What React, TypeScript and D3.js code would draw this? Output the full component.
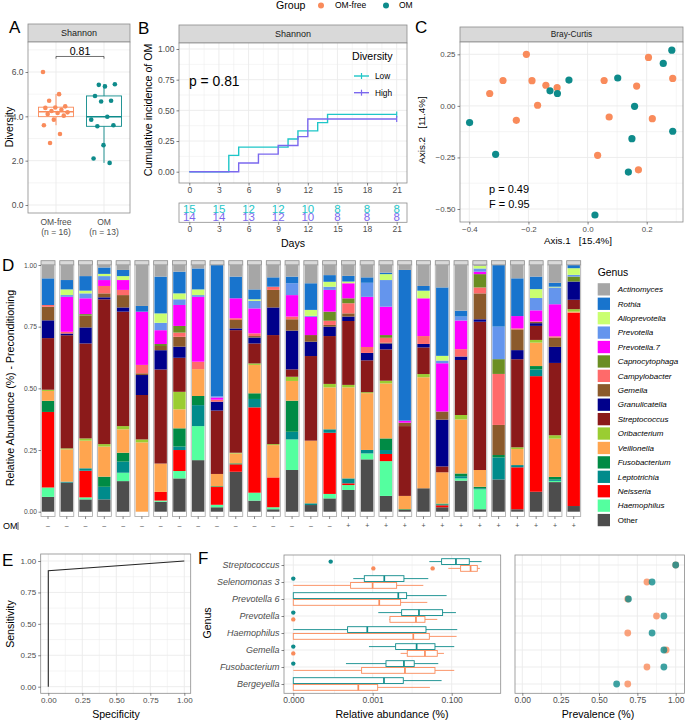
import React, { useEffect, useRef } from 'react';
import * as d3 from 'd3';

const FONT = '"Liberation Sans", Arial, Helvetica, sans-serif';
const ORANGE = '#F98B5B';
const TEAL = '#0E8B8B';
const LOW = '#1EC6C8';
const HIGH = '#7B68EE';
const GRID = '#EBEBEB';
const BORDER = '#8C8C8C';
const TXT = '#4D4D4D';

const groups = ['OM-free', 'OM'];
const groupN = [16, 13];

// A: Shannon diversity per child
const shannonOMFree = [6.0, 5.0, 4.7, 4.45, 4.4, 4.38, 4.3, 4.24, 4.18, 4.15, 4.1, 4.03, 3.85, 3.6, 3.2, 2.8];
const shannonOM = [5.42, 5.45, 5.35, 4.92, 4.7, 4.67, 3.85, 3.98, 3.55, 3.6, 2.7, 2.1, 1.9];

// B: cumulative incidence by diversity
const daysLow = [0, 4, 5, 10, 11, 13, 14, 21];
const incLow = [0, 0.133, 0.2, 0.267, 0.333, 0.4, 0.467, 0.467];
const daysHigh = [0, 5, 7, 9, 11, 12, 21];
const incHigh = [0, 0.071, 0.143, 0.214, 0.286, 0.429, 0.429];
const riskDays = [0, 3, 6, 9, 12, 15, 18, 21];
const riskLow = [15, 15, 12, 12, 10, 8, 8, 8];
const riskHigh = [14, 14, 13, 12, 10, 8, 8, 8];

// C: PCoA Bray-Curtis
const pcoaOMFree: [number, number][] = [
  [-0.207, 0.25], [-0.331, 0.06], [-0.286, 0.123], [-0.188, 0.122], [-0.141, 0.1], [-0.103, 0.088],
  [-0.169, 0.003], [-0.241, -0.07], [0.056, 0.123], [0.166, 0.096], [0.206, 0.235], [0.288, 0.133],
  [0.073, -0.054], [0.219, -0.062], [0.034, -0.24], [0.172, -0.31],
];
const pcoaOM: [number, number][] = [
  [-0.399, -0.081], [-0.311, -0.235], [-0.127, 0.073], [-0.102, 0.06], [-0.063, 0.125], [0.102, 0.135],
  [0.159, -0.002], [0.15, -0.159], [0.138, -0.321], [0.025, -0.529], [0.256, 0.206], [0.285, 0.27],
  [0.288, -0.123],
];

// D: relative abundance per sample (29 samples)
const omStatus = [...Array(16).fill('-'), ...Array(13).fill('+')];
const actinomyces = [.054, .061, .045, .01, .02, .166, .047, .027, .014, 0, .047, .099, .05, .047, .074, .041, .044, .05, .031, .02, .085, .091, .185, .004, 0, .054, .047, .072, 0];
const rothia = [.108, .038, .059, .026, .025, .023, .149, .088, .085, .532, .088, .04, .038, .027, .108, .027, .023, .022, .006, .611, .019, .278, .024, 0, .25, .153, .051, .016, .013];
const alloprevotella = [0, .023, .011, .009, .016, 0, .038, .024, .023, 0, 0, .006, 0, 0, .024, .02, .007, 0, .024, 0, .031, .019, 0, .01, 0, 0, .036, .003, .027];
const prevotella = [0, .007, .02, .016, 0, 0, .03, .023, .007, .005, 0, .031, 0, .048, .004, .013, 0, .057, .108, 0, 0, .011, .016, .013, .132, 0, .05, .068, .007];
const prevotella7 = [0, .142, .064, .024, .04, .216, .056, .085, .263, .009, .081, .101, 0, .087, .074, .088, .061, .203, .115, .008, .153, .196, .116, .01, 0, .05, .045, .13, 0];
const capnocytophaga = [0, 0, .006, 0, 0, 0, .008, .027, 0, 0, 0, 0, 0, 0, 0, .037, .02, 0, .011, 0, 0, 0, 0, .054, .06, 0, 0, 0, .02];
const campylobacter = [.007, .007, 0, .03, .021, .034, 0, .017, .03, .008, .007, .011, .013, .011, 0, .017, .041, .024, .02, 0, .032, 0, .03, .024, .207, .004, .002, .005, 0];
const gemella = [.055, 0, .048, .016, .05, .007, .017, .04, 0, 0, .034, .006, .071, .046, .027, .007, .013, 0, .003, .014, 0, .033, 0, .105, .122, .084, .005, .038, 0];
const granulicatella = [.072, .007, .065, .008, .017, .081, .078, .045, 0, .036, .007, .024, .112, .157, .058, .038, .018, .03, .024, 0, .014, .19, .014, .01, 0, .037, .011, .065, .074];
const streptococcus = [.209, .459, .385, .587, .464, .18, .381, .138, 0, .257, .497, .081, .442, .03, .343, .194, .259, .129, .127, .283, .108, .024, .223, .601, 0, .357, .057, .293, .038];
const oribacterium = [.005, .004, .009, .01, .013, .012, 0, .071, 0, 0, .003, .006, .004, .017, 0, .014, .01, .004, .011, 0, .013, 0, .018, 0, 0, .007, .011, .014, .01];
const veillonella = [.04, .131, .112, .122, .095, .281, .115, .077, .109, .05, .04, .115, .131, .08, .254, .17, .369, .23, .223, .054, .45, .127, .219, .068, 0, .065, .095, .155, .004];
const fusobacterium = [.045, 0, 0, .041, .036, 0, 0, .074, .037, .003, .004, .023, 0, .126, 0, 0, 0, 0, .047, .003, 0, .004, .011, .006, .01, 0, .014, .011, 0];
const leptotrichia = [0, .004, .01, .051, .045, 0, 0, .014, .085, 0, 0, .034, 0, .031, .007, .014, .02, .014, .016, 0, 0, .003, .009, .004, .089, .009, .027, .005, 0];
const neisseria = [.306, 0, .108, 0, 0, 0, .035, .085, 0, .072, .03, .346, .121, 0, 0, .248, .007, 0, .029, 0, 0, .008, 0, 0, 0, .17, .469, 0, .784];
const haemophilus = [.038, 0, .008, 0, .034, 0, .005, .03, .138, .01, 0, .032, .008, .124, 0, .018, .02, .024, .141, 0, 0, 0, .009, .081, 0, 0, 0, .005, 0];
const other = [.06, .118, .05, .05, .124, 0, .04, .135, .209, .018, .162, .045, .01, .169, .027, .054, .088, .212, .064, .007, .095, .018, .126, .01, .131, .01, .081, .12, .023];

const genusTable = [
  { name: 'Actinomyces', color: '#A6A6A6', values: actinomyces },
  { name: 'Rothia', color: '#1874CD', values: rothia },
  { name: 'Alloprevotella', color: '#CAFF70', values: alloprevotella },
  { name: 'Prevotella', color: '#6495ED', values: prevotella },
  { name: 'Prevotella.7', color: '#FF00FF', values: prevotella7 },
  { name: 'Capnocytophaga', color: '#6B8E23', values: capnocytophaga },
  { name: 'Campylobacter', color: '#FF6A6A', values: campylobacter },
  { name: 'Gemella', color: '#8B5A2B', values: gemella },
  { name: 'Granulicatella', color: '#00008B', values: granulicatella },
  { name: 'Streptococcus', color: '#8B1A1A', values: streptococcus },
  { name: 'Oribacterium', color: '#9ACD32', values: oribacterium },
  { name: 'Veillonella', color: '#FFA54F', values: veillonella },
  { name: 'Fusobacterium', color: '#008B45', values: fusobacterium },
  { name: 'Leptotrichia', color: '#008B8B', values: leptotrichia },
  { name: 'Neisseria', color: '#FF0000', values: neisseria },
  { name: 'Haemophilus', color: '#54FF9F', values: haemophilus },
  { name: 'Other', color: '#4D4D4D', values: other },
];

// E: ROC
const specificity = [0, 0, 1];
const sensitivity = [0, 0.923, 1];

// F: abundance boxplots [lower whisker, q1, median, q3, upper whisker]
const fGenera = ['Streptococcus', 'Selenomonas 3', 'Prevotella 6', 'Prevotella', 'Haemophilus', 'Gemella', 'Fusobacterium', 'Bergeyella'];
const boxOM = [
  [0.0272, 0.0556, 0.128, 0.278, 0.569],
  [3.17e-4, 6.11e-4, 1.975e-3, 6.21e-3, 0.0256],
  [0, 0, 4.47e-3, 7.26e-3, 0.0744],
  [1.39e-3, 5.43e-3, 0.0149, 0.0589, 0.128],
  [0, 2.25e-4, 7.29e-4, 0.0224, 0.138],
  [8.04e-4, 3.83e-3, 0.013, 0.0378, 0.116],
  [2.04e-4, 2.18e-3, 6.21e-3, 0.0113, 0.0458],
  [0, 0, 1.94e-3, 5.98e-3, 0.0556],
];
const boxOMFree = [
  [0.082, 0.168, 0.3, 0.443, 0.516],
  [0, 2.7e-4, 9.97e-4, 4.06e-3, 0.0192],
  [0, 0, 1.47e-3, 5.12e-3, 0.0242],
  [2.64e-3, 2.75e-3, 0.0125, 0.0211, 0.0432],
  [0, 0, 0.0107, 0.0272, 0.133],
  [5.12e-3, 7.54e-3, 0.0211, 0.0432, 0.0637],
  [0, 5.21e-4, 6.59e-3, 0.0378, 0.116],
  [0, 0, 4.28e-4, 1.34e-3, 0.0282],
];
const outlierOMGenus = ['Streptococcus', 'Selenomonas 3', 'Prevotella', 'Gemella', 'Fusobacterium'];
const outlierOMValue = [7.8e-5, 0, 0, 0, 0];
const outlierFreeGenus = ['Streptococcus', 'Streptococcus', 'Prevotella', 'Gemella'];
const outlierFreeValue = [0.00104, 0.033, 0, 0];
const prevalenceOMFree = [1.0, 0.8125, 0.6875, 0.875, 0.6875, 0.9375, 0.8125, 0.6875];
const prevalenceOM = [1.0, 0.846, 0.692, 0.923, 0.846, 0.923, 0.923, 0.615];

type Sel = d3.Selection<any, any, any, any>;

const label = (g: Sel, x: number, y: number, s: string, o: any = {}) => {
  const t = g.append('text')
    .attr('x', x).attr('y', y).attr('dy', '0.35em')
    .attr('text-anchor', o.anchor || 'middle')
    .attr('font-size', o.size || 10.6)
    .attr('fill', o.color || '#000')
    .attr('font-style', o.italic ? 'italic' : 'normal')
    .text(s);
  if (o.rotate) t.attr('transform', `rotate(-90, ${x}, ${y})`);
  return t;
};

const panelBg = (g: Sel, x0: number, y0: number, x1: number, y1: number) =>
  g.append('rect').attr('x', x0).attr('y', y0).attr('width', x1 - x0).attr('height', y1 - y0).attr('fill', '#fff');

const panelBorder = (g: Sel, x0: number, y0: number, x1: number, y1: number) =>
  g.append('rect').attr('x', x0).attr('y', y0).attr('width', x1 - x0).attr('height', y1 - y0)
    .attr('fill', 'none').attr('stroke', BORDER).attr('stroke-width', 0.8);

const strip = (g: Sel, x0: number, y0: number, x1: number, y1: number, s: string, size = 9) => {
  g.append('rect').attr('x', x0).attr('y', y0).attr('width', x1 - x0).attr('height', y1 - y0)
    .attr('fill', '#D9D9D9').attr('stroke', BORDER).attr('stroke-width', 0.8);
  if (s) label(g, (x0 + x1) / 2, (y0 + y1) / 2, s, { size, color: '#1A1A1A' });
};

const vGrid = (g: Sel, xs: number[], y0: number, y1: number, w: number) =>
  xs.forEach(x => g.append('line').attr('x1', x).attr('x2', x).attr('y1', y0).attr('y2', y1)
    .attr('stroke', GRID).attr('stroke-width', w));

const hGrid = (g: Sel, ys: number[], x0: number, x1: number, w: number) =>
  ys.forEach(y => g.append('line').attr('x1', x0).attr('x2', x1).attr('y1', y).attr('y2', y)
    .attr('stroke', GRID).attr('stroke-width', w));

const axis = (g: Sel, gen: any, tx: number, ty: number, size = 8.5) => {
  const a = g.append('g').attr('transform', `translate(${tx},${ty})`).call(gen);
  a.select('.domain').remove();
  a.attr('font-family', FONT).attr('font-size', size);
  a.selectAll('.tick line').attr('stroke', '#333').attr('stroke-width', 0.6);
  a.selectAll('.tick text').attr('fill', TXT);
  return a;
};

const mid = (v: number[]) => v.slice(1).map((d, i) => (d + v[i]) / 2);

const App: React.FC = () => {
  const ref = useRef<SVGSVGElement>(null);

  useEffect(() => {
    if (!ref.current) return;
    const svg = d3.select(ref.current);
    svg.selectAll('*').remove();
    svg.append('rect').attr('width', 685).attr('height', 722).attr('fill', '#fff');
    const root = svg.append('g').attr('font-family', FONT);

    // ---------- top legend ----------
    label(root, 276, 5.5, 'Group', { anchor: 'start', size: 10.6 });
    root.append('circle').attr('cx', 321).attr('cy', 5.5).attr('r', 3).attr('fill', ORANGE);
    label(root, 335, 5.5, 'OM-free', { anchor: 'start', size: 8.5 });
    root.append('circle').attr('cx', 386).attr('cy', 5.5).attr('r', 3).attr('fill', TEAL);
    label(root, 399, 5.5, 'OM', { anchor: 'start', size: 8.5 });

    // ---------- A ----------
    {
      const g = root.append('g');
      const [x0, y0, x1, y1] = [28, 42, 130, 213];
      const y = d3.scaleLinear().domain([0, 6]).range([205, 72]);
      const x = d3.scalePoint<string>().domain(groups).range([56, 104]);
      label(g, 9, 27, 'A', { anchor: 'start', size: 17 });
      strip(g, x0, 24, x1, y0, 'Shannon');
      panelBg(g, x0, y0, x1, y1);
      hGrid(g, [1, 3, 5, 7].map(y), x0, x1, 0.5);
      hGrid(g, [0, 2, 4, 6].map(y), x0, x1, 0.9);
      vGrid(g, groups.map(d => x(d)!), y0, y1, 0.9);
      [shannonOMFree, shannonOM].forEach((vals, gi) => {
        const col = gi === 0 ? ORANGE : TEAL;
        const cx = x(groups[gi])!;
        const s = [...vals].sort(d3.ascending);
        const q1 = d3.quantile(s, 0.25)!, med = d3.quantile(s, 0.5)!, q3 = d3.quantile(s, 0.75)!;
        const iqr = q3 - q1;
        const lo = d3.min(s.filter(v => v >= q1 - 1.5 * iqr))!;
        const hi = d3.max(s.filter(v => v <= q3 + 1.5 * iqr))!;
        const bw = 35;
        g.append('line').attr('x1', cx).attr('x2', cx).attr('y1', y(hi)).attr('y2', y(q3)).attr('stroke', col).attr('stroke-width', 0.9);
        g.append('line').attr('x1', cx).attr('x2', cx).attr('y1', y(q1)).attr('y2', y(lo)).attr('stroke', col).attr('stroke-width', 0.9);
        g.append('rect').attr('x', cx - bw / 2).attr('width', bw).attr('y', y(q3)).attr('height', y(q1) - y(q3))
          .attr('fill', '#fff').attr('fill-opacity', 0.6).attr('stroke', col).attr('stroke-width', 0.9);
        g.append('line').attr('x1', cx - bw / 2).attr('x2', cx + bw / 2).attr('y1', y(med)).attr('y2', y(med)).attr('stroke', col).attr('stroke-width', 1.6);
        vals.forEach((v, i) => {
          const jit = (((i * 0.618034 + gi * 0.3) % 1) - 0.5) * 26;
          g.append('circle').attr('cx', cx + jit).attr('cy', y(v)).attr('r', 2.3).attr('fill', col);
        });
      });
      // significance bracket
      const by = y(6.7);
      g.append('path').attr('d', `M${x('OM-free')},${y(6.6)}V${by}H${x('OM')}V${y(6.6)}`)
        .attr('fill', 'none').attr('stroke', '#333').attr('stroke-width', 0.7);
      label(g, 80, 51, '0.81', { size: 10.6 });
      panelBorder(g, x0, y0, x1, y1);
      axis(g, d3.axisLeft(y).tickValues([0, 2, 4, 6]).tickSize(2.5).tickPadding(2), x0, 0);
      groups.forEach((d, i) => {
        label(g, x(d)!, 222, d, { size: 8.5, color: TXT });
        label(g, x(d)!, 232, `(n = ${groupN[i]})`, { size: 8.5, color: TXT });
      });
      label(g, 9.5, 127, 'Diversity', { rotate: true });
    }

    // ---------- B ----------
    {
      const g = root.append('g');
      const [x0, y0, x1, y1] = [179, 43, 407, 183];
      const x = d3.scaleLinear().domain([0, 21]).range([189.3, 396.7]);
      const y = d3.scaleLinear().domain([0, 1]).range([171.7, 49]);
      label(g, 138, 28, 'B', { anchor: 'start', size: 17 });
      strip(g, x0, 25, x1, y0, 'Shannon');
      panelBg(g, x0, y0, x1, y1);
      const xt = d3.range(0, 22, 3);
      const yt = [0, 0.25, 0.5, 0.75, 1];
      vGrid(g, mid(xt).map(x), y0, y1, 0.5);
      hGrid(g, mid(yt).map(y), x0, x1, 0.5);
      vGrid(g, xt.map(x), y0, y1, 0.9);
      hGrid(g, yt.map(y), x0, x1, 0.9);
      const line = d3.line<[number, number]>().x(d => x(d[0])).y(d => y(d[1])).curve(d3.curveStepAfter);
      const curves: [number[], number[], string][] = [[daysLow, incLow, LOW], [daysHigh, incHigh, HIGH]];
      curves.forEach(([days, inc, col]) => {
        const pts = days.map((d, i) => [d, inc[i]] as [number, number]);
        g.append('path').attr('d', line(pts)!).attr('fill', 'none').attr('stroke', col).attr('stroke-width', 1.4);
        const last = pts[pts.length - 1];
        g.append('line').attr('x1', x(last[0])).attr('x2', x(last[0])).attr('y1', y(last[1]) - 3).attr('y2', y(last[1]) + 3)
          .attr('stroke', col).attr('stroke-width', 1.2);
      });
      label(g, 189, 81, 'p = 0.81', { anchor: 'start', size: 13.9 });
      label(g, 352, 56, 'Diversity', { anchor: 'start', size: 10.6 });
      [['Low', LOW, 76], ['High', HIGH, 92.7]].forEach(([name, col, ky]: any) => {
        g.append('line').attr('x1', 354).attr('x2', 369).attr('y1', ky).attr('y2', ky).attr('stroke', col).attr('stroke-width', 1.4);
        g.append('line').attr('x1', 361.5).attr('x2', 361.5).attr('y1', ky - 3).attr('y2', ky + 3).attr('stroke', col).attr('stroke-width', 1.2);
        label(g, 375, ky, name, { anchor: 'start', size: 8.3 });
      });
      panelBorder(g, x0, y0, x1, y1);
      axis(g, d3.axisLeft(y).tickValues(yt).tickSize(2.5).tickPadding(2).tickFormat(d3.format('.2f')), x0, 0);
      axis(g, d3.axisBottom(x).tickValues(xt).tickSize(2.5).tickPadding(1.5), 0, y1);
      label(g, 148, 110, 'Cumulative incidence of OM', { rotate: true });

      // number-at-risk table (the two rows overlap in the original too)
      const [ry0, ry1] = [203, 222.3];
      panelBg(g, x0, ry0, x1, ry1);
      vGrid(g, xt.map(x), ry0, ry1, 0.9);
      riskDays.forEach((d, i) => {
        label(g, x(d), 209, String(riskLow[i]), { size: 11.5, color: LOW });
        label(g, x(d), 217, String(riskHigh[i]), { size: 11.5, color: HIGH });
      });
      panelBorder(g, x0, ry0, x1, ry1);
      axis(g, d3.axisBottom(x).tickValues(xt).tickSize(2.5).tickPadding(1.5), 0, ry1);
      label(g, 293, 243, 'Days');
    }

    // ---------- C ----------
    {
      const g = root.append('g');
      const [x0, y0, x1, y1] = [460, 42, 683, 222];
      const x = d3.scaleLinear().domain([-0.4, 0.2]).range([469.3, 646.7]);
      const y = d3.scaleLinear().domain([-0.5, 0.25]).range([209, 54.3]);
      label(g, 415, 27, 'C', { anchor: 'start', size: 17 });
      strip(g, x0, 27, x1, y0, 'Bray-Curtis', 8.3);
      panelBg(g, x0, y0, x1, y1);
      const xt = [-0.4, -0.2, 0, 0.2];
      const yt = [-0.5, -0.25, 0, 0.25];
      vGrid(g, [-0.3, -0.1, 0.1, 0.3].map(x), y0, y1, 0.5);
      hGrid(g, [-0.375, -0.125, 0.125].map(y), x0, x1, 0.5);
      vGrid(g, xt.map(x), y0, y1, 0.9);
      hGrid(g, yt.map(y), x0, x1, 0.9);
      pcoaOMFree.forEach(d => g.append('circle').attr('cx', x(d[0])).attr('cy', y(d[1])).attr('r', 3.6).attr('fill', ORANGE));
      pcoaOM.forEach(d => g.append('circle').attr('cx', x(d[0])).attr('cy', y(d[1])).attr('r', 3.6).attr('fill', TEAL));
      label(g, 489, 189, 'p = 0.49', { anchor: 'start', size: 11 });
      label(g, 489, 204, 'F = 0.95', { anchor: 'start', size: 11 });
      panelBorder(g, x0, y0, x1, y1);
      axis(g, d3.axisLeft(y).tickValues(yt).tickSize(2.5).tickPadding(2).tickFormat(d3.format('.2f')), x0, 0, 7.9);
      axis(g, d3.axisBottom(x).tickValues(xt).tickSize(2.5).tickPadding(1.5).tickFormat(d3.format('.1f')), 0, y1, 7.9);
      label(g, 578, 241, 'Axis.1\u00A0\u00A0\u00A0[15.4%]', { size: 9.8 });
      label(g, 422, 130, 'Axis.2\u00A0\u00A0\u00A0[11.4%]', { size: 9.8, rotate: true });
    }

    // ---------- D ----------
    {
      const g = root.append('g');
      const sampleIds = omStatus.map((_, i) => `S${i + 1}`);
      const x = d3.scaleBand<string>().domain(sampleIds).range([41, 580.7]).paddingInner(0.254).paddingOuter(0);
      const y = d3.scaleLinear().domain([0, 1]).range([511.7, 265]);
      const bw = x.bandwidth();
      const keys = genusTable.map(d => d.name).reverse();
      const colorOf = new Map(genusTable.map(d => [d.name, d.color]));
      const rows = sampleIds.map((id, i) => {
        const r: any = { id };
        genusTable.forEach(gn => { r[gn.name] = gn.values[i]; });
        return r;
      });
      const series = d3.stack<any>().keys(keys).offset(d3.stackOffsetExpand)(rows);
      label(g, 2, 265, 'D', { anchor: 'start', size: 17 });
      sampleIds.forEach(id => {
        const px = x(id)!;
        strip(g, px, 260.7, px + bw, 265, '');
        panelBg(g, px, 265, px + bw, 516.5);
      });
      series.forEach(s => {
        g.append('g').attr('fill', colorOf.get(s.key)!)
          .selectAll('rect').data(s).join('rect')
          .attr('x', (d: any) => x(d.data.id)! + 0.8)
          .attr('width', bw - 1.6)
          .attr('y', d => y(d[1]))
          .attr('height', d => Math.max(0, y(d[0]) - y(d[1])));
      });
      sampleIds.forEach((id, i) => {
        const px = x(id)!;
        g.append('rect').attr('x', px).attr('y', 265).attr('width', bw).attr('height', 516.5 - 265)
          .attr('fill', 'none').attr('stroke', '#A6A6A6').attr('stroke-width', 0.8);
        g.append('line').attr('x1', px + bw / 2).attr('x2', px + bw / 2).attr('y1', 516.5).attr('y2', 519)
          .attr('stroke', '#333').attr('stroke-width', 0.6);
        label(g, px + bw / 2, 526, omStatus[i] === '-' ? '\u2013' : '+', { size: 7, color: TXT });
      });
      axis(g, d3.axisLeft(y).tickValues([0, 0.25, 0.5, 0.75, 1]).tickSize(2.5).tickPadding(1.5).tickFormat(d3.format('.2f')), 41, 0, 6.7);
      label(g, 3, 526, 'OM', { anchor: 'start', size: 9 });
      g.append('line').attr('x1', 18).attr('x2', 18).attr('y1', 522).attr('y2', 530).attr('stroke', '#333').attr('stroke-width', 0.8);
      label(g, 10, 388, 'Relative Abundance (%) - Preconditioning', { rotate: true });

      // legend
      label(g, 597.7, 272.7, 'Genus', { anchor: 'start', size: 10.4 });
      genusTable.forEach((gn, i) => {
        const cy = 289.3 + i * 14.42;
        g.append('rect').attr('x', 597.7).attr('y', cy - 6.1).attr('width', 12.3).attr('height', 12.3).attr('fill', gn.color);
        label(g, 617.7, cy, gn.name, { anchor: 'start', size: 8, italic: gn.name !== 'Other' });
      });
    }

    // ---------- E ----------
    {
      const g = root.append('g');
      const [x0, y0, x1, y1] = [40.7, 554, 190.7, 693.3];
      const x = d3.scaleLinear().domain([0, 1]).range([48.3, 184.3]);
      const y = d3.scaleLinear().domain([0, 1]).range([686.7, 561]);
      const t = [0, 0.25, 0.5, 0.75, 1];
      label(g, 2, 560, 'E', { anchor: 'start', size: 17 });
      panelBg(g, x0, y0, x1, y1);
      vGrid(g, mid(t).map(x), y0, y1, 0.5);
      hGrid(g, mid(t).map(y), x0, x1, 0.5);
      vGrid(g, t.map(x), y0, y1, 0.9);
      hGrid(g, t.map(y), x0, x1, 0.9);
      const pts = specificity.map((s, i) => [s, sensitivity[i]] as [number, number]);
      g.append('path').attr('d', d3.line<[number, number]>().x(d => x(d[0])).y(d => y(d[1]))(pts)!)
        .attr('fill', 'none').attr('stroke', '#262626').attr('stroke-width', 1.1);
      panelBorder(g, x0, y0, x1, y1);
      axis(g, d3.axisLeft(y).tickValues(t).tickSize(2.5).tickPadding(2).tickFormat(d3.format('.2f')), x0, 0, 8);
      axis(g, d3.axisBottom(x).tickValues(t).tickSize(2.5).tickPadding(1.5).tickFormat(d3.format('.2f')), 0, y1, 8);
      label(g, 116, 714, 'Specificity');
      label(g, 10, 624, 'Sensitivity', { rotate: true });
    }

    // ---------- F ----------
    {
      const g = root.append('g');
      const [x0, y0, x1, y1] = [284, 555, 500.7, 693.3];
      const x = d3.scaleSymlog().constant(1e-5).domain([0, 0.1]).range([293.3, 451.7]);
      const y = d3.scalePoint<string>().domain(fGenera).range([565, 684]);
      const xt = [0, 0.001, 0.1];
      label(g, 198, 558, 'F', { anchor: 'start', size: 17 });
      panelBg(g, x0, y0, x1, y1);
      vGrid(g, [0.0001, 0.01].map(x), y0, y1, 0.5);
      vGrid(g, xt.map(x), y0, y1, 0.9);
      hGrid(g, fGenera.map(d => y(d)!), x0, x1, 0.9);
      const off = 3.4, hh = 2.9;
      const drawBox = (st: number[], cy: number, col: string) => {
        const [lo, q1, med, q3, hi] = st;
        g.append('line').attr('x1', x(lo)).attr('x2', x(q1)).attr('y1', cy).attr('y2', cy).attr('stroke', col).attr('stroke-width', 0.9);
        g.append('line').attr('x1', x(q3)).attr('x2', x(hi)).attr('y1', cy).attr('y2', cy).attr('stroke', col).attr('stroke-width', 0.9);
        g.append('rect').attr('x', x(q1)).attr('width', Math.max(0.5, x(q3) - x(q1))).attr('y', cy - hh).attr('height', hh * 2)
          .attr('fill', '#fff').attr('stroke', col).attr('stroke-width', 0.9);
        g.append('line').attr('x1', x(med)).attr('x2', x(med)).attr('y1', cy - hh).attr('y2', cy + hh).attr('stroke', col).attr('stroke-width', 1.7);
      };
      fGenera.forEach((gn, i) => {
        drawBox(boxOM[i], y(gn)! - off, TEAL);
        drawBox(boxOMFree[i], y(gn)! + off, ORANGE);
      });
      outlierOMGenus.forEach((gn, i) =>
        g.append('circle').attr('cx', x(outlierOMValue[i])).attr('cy', y(gn)! - off).attr('r', 2.2).attr('fill', TEAL));
      outlierFreeGenus.forEach((gn, i) =>
        g.append('circle').attr('cx', x(outlierFreeValue[i])).attr('cy', y(gn)! + off).attr('r', 2.2).attr('fill', ORANGE));
      panelBorder(g, x0, y0, x1, y1);
      const ya = axis(g, d3.axisLeft(y).tickSize(2.5).tickPadding(2), x0, 0, 9);
      ya.selectAll('.tick text').attr('font-style', 'italic');
      axis(g, d3.axisBottom(x).tickValues(xt).tickSize(2.5).tickPadding(1.5).tickFormat(d3.format('.3f')), 0, y1, 8.5);
      label(g, 207, 623, 'Genus', { rotate: true });
      label(g, 392, 714, 'Relative abundance (%)');

      // prevalence
      const [p0, p1] = [515, 684.5];
      const xp = d3.scaleLinear().domain([0, 1]).range([522.3, 675.7]);
      const pt = [0, 0.25, 0.5, 0.75, 1];
      panelBg(g, p0, y0, p1, y1);
      vGrid(g, mid(pt).map(xp), y0, y1, 0.5);
      vGrid(g, pt.map(xp), y0, y1, 0.9);
      hGrid(g, fGenera.map(d => y(d)!), p0, p1, 0.9);
      fGenera.forEach((gn, i) =>
        g.append('circle').attr('cx', xp(prevalenceOMFree[i])).attr('cy', y(gn)!).attr('r', 3.4).attr('fill', ORANGE).attr('fill-opacity', 0.8));
      fGenera.forEach((gn, i) =>
        g.append('circle').attr('cx', xp(prevalenceOM[i])).attr('cy', y(gn)!).attr('r', 3.4).attr('fill', TEAL).attr('fill-opacity', 0.8));
      panelBorder(g, p0, y0, p1, y1);
      axis(g, d3.axisBottom(xp).tickValues(pt).tickSize(2.5).tickPadding(1.5).tickFormat(d3.format('.2f')), 0, y1, 8.5);
      label(g, 598, 714, 'Prevalence (%)');
    }
  }, []);

  return (
    <svg ref={ref} width={685} height={722}
      style={{ position: 'absolute', left: 0, top: 0, display: 'block' }} />
  );
};

export default App;
